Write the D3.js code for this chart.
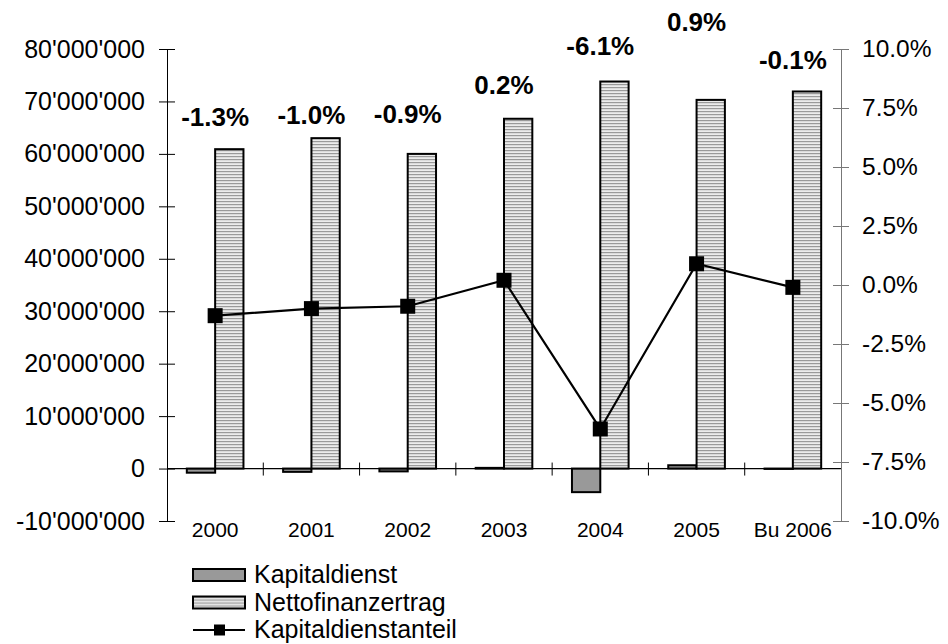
<!DOCTYPE html>
<html>
<head>
<meta charset="utf-8">
<script src="https://cdn.jsdelivr.net/npm/d3@7"></script>
<style>
  body { margin: 0; background: #fff; }
  svg { display: block; font-family: "Liberation Sans", Arial, sans-serif; }
</style>
</head>
<body>
<svg id="chart" width="948" height="644"></svg>
<script>
// data
const categories = ["2000", "2001", "2002", "2003", "2004", "2005", "Bu 2006"];
const kapitaldienst = [-790000, -630000, -540000, 130000, -4500000, 630000, -70000];
const nettofinanzertrag = [60900000, 63000000, 60000000, 66700000, 73800000, 70300000, 71900000];
const kapitaldienstanteil = [-1.3, -1.0, -0.9, 0.2, -6.1, 0.9, -0.1];
const leftTicks = [-10000000, 0, 10000000, 20000000, 30000000, 40000000, 50000000, 60000000, 70000000, 80000000];
const rightTicks = [-10, -7.5, -5, -2.5, 0, 2.5, 5, 7.5, 10];

// label lift above the Nettofinanzertrag bar top (px), as placed in the original
const labelLift = [32, 23, 40, 34, 36, 78, 32];

const svg = d3.select("#chart");
const plotL = 167, plotR = 841, plotT = 49, plotB = 521;

const x0 = d3.scaleBand().domain(categories).range([plotL, plotR]);
const x1 = d3.scaleBand().domain(["k", "n"]).range([0, x0.bandwidth()]).paddingOuter(0.7);
const yL = d3.scaleLinear().domain([-10000000, 80000000]).range([plotB, plotT]);
const yR = d3.scaleLinear().domain([-10, 10]).range([plotB, plotT]);

// hatch pattern for Nettofinanzertrag
const defs = svg.append("defs");
const pat = defs.append("pattern")
  .attr("id", "stripes")
  .attr("patternUnits", "userSpaceOnUse")
  .attr("width", 6).attr("height", 3);
pat.append("rect").attr("width", 6).attr("height", 3).attr("fill", "#ececec");
pat.append("rect").attr("width", 6).attr("height", 1.2).attr("fill", "#9a9a9a");

const loc = d3.formatLocale({ decimal: ".", thousands: "'", grouping: [3], currency: ["", ""], minus: "-" });
const fmtL = loc.format(",");
const fmtPct = loc.format(".1f");
const fmtR = v => fmtPct(v) + "%";

// bars
const groups = svg.append("g").selectAll("g")
  .data(categories)
  .join("g")
  .attr("transform", d => `translate(${x0(d)},0)`);

groups.append("rect")
  .attr("x", x1("k"))
  .attr("width", x1.bandwidth())
  .attr("y", (d, i) => yL(Math.max(0, kapitaldienst[i])))
  .attr("height", (d, i) => Math.abs(yL(kapitaldienst[i]) - yL(0)))
  .attr("fill", "#999999")
  .attr("stroke", "#000")
  .attr("stroke-width", 2);

groups.append("rect")
  .attr("x", x1("n"))
  .attr("width", x1.bandwidth())
  .attr("y", (d, i) => yL(nettofinanzertrag[i]))
  .attr("height", (d, i) => yL(0) - yL(nettofinanzertrag[i]))
  .attr("fill", "url(#stripes)")
  .attr("stroke", "#000")
  .attr("stroke-width", 2);

// left axis
const axL = svg.append("g")
  .attr("transform", `translate(${plotL},0)`)
  .call(d3.axisLeft(yL).tickValues(leftTicks).tickFormat(fmtL).tickSize(8).tickPadding(14).tickSizeOuter(0));
axL.attr("font-family", null);
axL.selectAll(".tick line").attr("x1", 8);
axL.selectAll("text").attr("font-size", 25).attr("fill", "#000");
axL.select(".domain").attr("stroke", "#000");

// right axis
const axR = svg.append("g")
  .attr("transform", `translate(${plotR},0)`)
  .call(d3.axisRight(yR).tickValues(rightTicks).tickFormat(fmtR).tickSize(8).tickPadding(13).tickSizeOuter(0));
axR.attr("font-family", null);
axR.selectAll(".tick line").attr("x1", -8).attr("stroke", "#777");
axR.select(".domain").attr("stroke", "#777");
axR.selectAll("text").attr("font-size", 24.5).attr("fill", "#000");

// category axis at zero
const y0 = yL(0);
svg.append("line")
  .attr("x1", plotL).attr("x2", plotR)
  .attr("y1", y0).attr("y2", y0)
  .attr("stroke", "#000").attr("stroke-width", 1.2);
svg.append("g").selectAll("line")
  .data(categories.slice(1))
  .join("line")
  .attr("x1", d => x0(d)).attr("x2", d => x0(d))
  .attr("y1", y0 - 6).attr("y2", y0 + 7)
  .attr("stroke", "#000");
svg.append("g").selectAll("text")
  .data(categories)
  .join("text")
  .attr("x", d => x0(d) + x0.bandwidth() / 2)
  .attr("y", 537)
  .attr("text-anchor", "middle")
  .attr("font-size", 21)
  .text(d => d);

// line
const cx = d => x0(d) + x0.bandwidth() / 2;
const line = d3.line()
  .x((v, i) => cx(categories[i]))
  .y(v => yR(v));
svg.append("path")
  .datum(kapitaldienstanteil)
  .attr("d", line)
  .attr("fill", "none")
  .attr("stroke", "#000")
  .attr("stroke-width", 2.2);
svg.append("g").selectAll("rect")
  .data(kapitaldienstanteil)
  .join("rect")
  .attr("x", (v, i) => cx(categories[i]) - 7.5)
  .attr("y", v => yR(v) - 7.5)
  .attr("width", 15).attr("height", 15)
  .attr("fill", "#000");

// value labels
svg.append("g").selectAll("text")
  .data(kapitaldienstanteil)
  .join("text")
  .attr("x", (v, i) => cx(categories[i]))
  .attr("y", (v, i) => yL(nettofinanzertrag[i]) - labelLift[i])
  .attr("dy", "0.35em")
  .attr("text-anchor", "middle")
  .attr("font-size", 26)
  .attr("font-weight", "bold")
  .text(fmtR);

// legend
const legend = [
  { name: "Kapitaldienst", type: "k" },
  { name: "Nettofinanzertrag", type: "n" },
  { name: "Kapitaldienstanteil", type: "l" }
];
const lg = svg.append("g").selectAll("g")
  .data(legend)
  .join("g")
  .attr("transform", (d, i) => `translate(193,${575 + i * 27.5})`);
lg.filter(d => d.type !== "l").append("rect")
  .attr("x", 0).attr("y", -6).attr("width", 52).attr("height", 12)
  .attr("fill", d => d.type === "k" ? "#999999" : "url(#stripes)")
  .attr("stroke", "#000").attr("stroke-width", 2);
const ll = lg.filter(d => d.type === "l");
ll.append("line").attr("x1", 0).attr("x2", 52).attr("y1", 0).attr("y2", 0)
  .attr("stroke", "#000").attr("stroke-width", 2.2);
ll.append("rect").attr("x", 21).attr("y", -5.5).attr("width", 11).attr("height", 11).attr("fill", "#000");
lg.append("text")
  .attr("x", 61).attr("y", 0).attr("dy", "0.33em")
  .attr("font-size", 25)
  .text(d => d.name);
</script>
</body>
</html>
